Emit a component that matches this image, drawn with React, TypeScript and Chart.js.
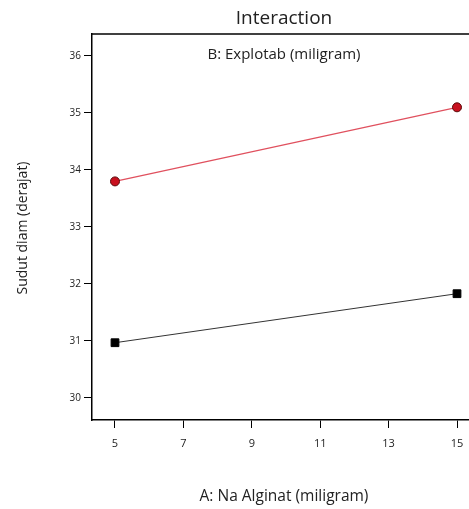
import React, { useEffect, useRef } from "react";
import { Chart, registerables } from "chart.js";

Chart.register(...registerables);

const xLevels = [5, 15];
const highB = [33.8, 35.1];
const lowB = [30.97, 31.83];
const xTicks = [5, 7, 9, 11, 13, 15];
const yTicks = [30, 31, 32, 33, 34, 35, 36];
const chartTitle = "Interaction";
const legendTitle = "B: Explotab (miligram)";
const xTitle = "A: Na Alginat (miligram)";
const yTitle = "Sudut diam (derajat)";

const FONT = "'Open Sans', 'Noto Sans', sans-serif";

const textPlugin = {
  id: "texts",
  afterDraw(chart: any) {
    const ctx = chart.ctx;
    const a = chart.chartArea;
    const cx = (a.left + a.right) / 2;
    ctx.save();
    // top frame line
    ctx.strokeStyle = "#000";
    ctx.lineWidth = 1.5;
    ctx.beginPath();
    ctx.moveTo(a.left, a.top);
    ctx.lineTo(a.right, a.top);
    ctx.stroke();
    ctx.fillStyle = "#222";
    ctx.textAlign = "center";
    ctx.textBaseline = "middle";
    ctx.font = `19px ${FONT}`;
    ctx.fillText(chartTitle, cx, 19);
    ctx.font = `15px ${FONT}`;
    ctx.fillText(legendTitle, cx, 55);
    ctx.font = `15.5px ${FONT}`;
    ctx.fillText(xTitle, cx, 497);
    ctx.translate(23, 228);
    ctx.rotate(-Math.PI / 2);
    ctx.font = `14px ${FONT}`;
    ctx.fillText(yTitle, 0, 0);
    ctx.restore();
  },
};

export default function App() {
  const ref = useRef<HTMLCanvasElement | null>(null);
  useEffect(() => {
    if (!ref.current) return;
    const chart = new Chart(ref.current, {
      type: "line",
      data: {
        datasets: [
          {
            label: "High",
            data: xLevels.map((x, i) => ({ x, y: highB[i] })),
            borderColor: "#e0505e",
            borderWidth: 1.2,
            backgroundColor: "#c8101e",
            pointBackgroundColor: "#c8101e",
            pointBorderColor: "#5a0a0a",
            pointBorderWidth: 1,
            pointStyle: "circle",
            pointRadius: 4.5,
          },
          {
            label: "Low",
            data: xLevels.map((x, i) => ({ x, y: lowB[i] })),
            borderColor: "#333",
            borderWidth: 1,
            backgroundColor: "#000",
            pointBackgroundColor: "#000",
            pointBorderColor: "#000",
            pointStyle: "rect",
            pointRadius: 5.5,
          },
        ],
      },
      options: {
        animation: false,
        responsive: false,
        maintainAspectRatio: false,
        layout: { padding: { top: 34, right: 14, left: 0, bottom: 0 } },
        plugins: { legend: { display: false }, tooltip: { enabled: false } },
        scales: {
          x: {
            type: "linear",
            min: 5 - 23 / 34.2,
            max: 15 + 19 / 34.2,
            afterBuildTicks: (s: any) => {
              s.ticks = xTicks.map((v) => ({ value: v }));
            },
            afterFit: (s: any) => {
              s.height = 89;
            },
            grid: {
              drawOnChartArea: false,
              drawTicks: true,
              tickLength: 8,
              color: "#000",
              lineWidth: 1,
            },
            border: { display: true, color: "#000", width: 1.5 },
            ticks: {
              color: "#222",
              font: { family: FONT, size: 11 },
              padding: 9,
              maxRotation: 0,
              autoSkip: false,
            },
          },
          y: {
            type: "linear",
            min: 30 - 22 / 57,
            max: 36 + 22 / 57,
            afterBuildTicks: (s: any) => {
              s.ticks = yTicks.map((v) => ({ value: v }));
            },
            afterFit: (s: any) => {
              s.width = 92;
            },
            grid: {
              drawOnChartArea: false,
              drawTicks: true,
              tickLength: 8,
              color: "#000",
              lineWidth: 1,
            },
            border: { display: true, color: "#000", width: 1.5 },
            ticks: {
              color: "#222",
              font: { family: FONT, size: 10 },
              padding: 3,
              autoSkip: false,
            },
          },
        },
      },
      plugins: [textPlugin],
    });
    return () => chart.destroy();
  }, []);
  return (
    <div
      style={{
        position: "absolute",
        left: 0,
        top: 0,
        width: 469,
        height: 509,
        overflow: "hidden",
        background: "#fff",
      }}
    >
      <canvas ref={ref} width={490} height={509} style={{ width: 490, height: 509 }} />
    </div>
  );
}
